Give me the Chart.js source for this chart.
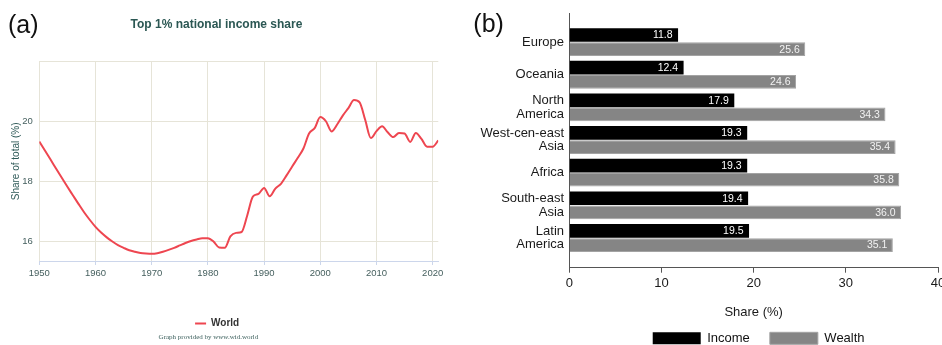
<!DOCTYPE html>
<html>
<head>
<meta charset="utf-8">
<script src="https://cdn.jsdelivr.net/npm/chart.js@4.4.1/dist/chart.umd.min.js"></script>
<style>
  html, body { margin: 0; padding: 0; background: #fff; overflow: hidden; }
  #wrap { position: relative; width: 942px; height: 345px; overflow: hidden; }
  #left { position: absolute; left: 0; top: 0; }
  #right { position: absolute; left: 470px; top: 0; }
</style>
</head>
<body>
<div id="wrap">
  <canvas id="left" width="470" height="345"></canvas>
  <canvas id="right" width="472" height="345"></canvas>
</div>
<script>
// ---- Panel (a): top 1% national income share, World ----
const years = [
  1950, 1951, 1952, 1953, 1954, 1955, 1956, 1957, 1958, 1959,
  1960, 1961, 1962, 1963, 1964, 1965, 1966, 1967, 1968, 1969,
  1970, 1971, 1972, 1973, 1974, 1975, 1976, 1977, 1978, 1979,
  1980, 1981, 1982, 1983, 1984, 1985, 1986, 1987, 1988, 1989,
  1990, 1991, 1992, 1993, 1994, 1995, 1996, 1997, 1998, 1999,
  2000, 2001, 2002, 2003, 2004, 2005, 2006, 2007, 2008, 2009,
  2010, 2011, 2012, 2013, 2014, 2015, 2016, 2017, 2018, 2019,
  2020, 2021
];
const worldTop1 = [
  19.33, 19.03, 18.73, 18.42, 18.12, 17.82, 17.53, 17.24, 16.96, 16.71,
  16.48, 16.29, 16.13, 15.99, 15.87, 15.78, 15.70, 15.65, 15.61, 15.59,
  15.58, 15.60, 15.65, 15.71, 15.78, 15.86, 15.94, 16.01, 16.06, 16.10,
  16.10, 15.99, 15.79, 15.78, 16.16, 16.28, 16.31, 16.86, 17.49, 17.58,
  17.78, 17.50, 17.76, 17.92, 18.20, 18.50, 18.79, 19.10, 19.60, 19.78,
  20.15, 20.01, 19.67, 19.90, 20.20, 20.45, 20.72, 20.64, 20.05, 19.45,
  19.68, 19.84, 19.64, 19.48, 19.62, 19.60, 19.32, 19.62, 19.42, 19.16,
  19.16, 19.37
];
const yearTicks = [1950, 1960, 1970, 1980, 1990, 2000, 2010, 2020];
const shareTicks = [16, 18, 20, 22];

// ---- Panel (b): income and wealth shares by region ----
const regions = [
  'Europe',
  'Oceania',
  ['North', 'America'],
  ['West-cen-east', 'Asia'],
  'Africa',
  ['South-east', 'Asia'],
  ['Latin', 'America']
];
const incomeShare = [11.8, 12.4, 17.9, 19.3, 19.3, 19.4, 19.5];
const wealthShare = [25.6, 24.6, 34.3, 35.4, 35.8, 36.0, 35.1];
const shareAxisTicks = [0, 10, 20, 30, 40];

const SANS = "'Liberation Sans', Arial, Helvetica, sans-serif";
const SERIF = "'Liberation Serif', 'Times New Roman', serif";

// Nudges title / legend / subtitle boxes after layout.
const boxShift = {
  id: 'boxShift',
  afterLayout(chart, args, opts) {
    const move = (box, d) => {
      if (!box || !d) return;
      const dx = d.x || 0, dy = d.y || 0;
      box.left += dx; box.right += dx;
      box.top += dy; box.bottom += dy;
    };
    move(chart.titleBlock, opts.title);
    move(chart.legend, opts.legend);
    if (opts.subtitle) {
      const txt = chart.options.plugins.subtitle.text;
      const sub = chart.boxes.find(b => b !== chart.titleBlock && b.options && b.options.text === txt);
      move(sub, opts.subtitle);
    }
  }
};

// Panel letter in the top-left corner.
const panelTag = {
  id: 'panelTag',
  afterDraw(chart, args, opts) {
    const ctx = chart.ctx;
    ctx.save();
    ctx.font = '25px ' + SANS;
    ctx.fillStyle = '#111';
    ctx.textAlign = 'left';
    ctx.textBaseline = 'alphabetic';
    ctx.fillText(opts.text, opts.x, opts.y);
    ctx.restore();
  }
};

// Value printed inside the end of each bar.
const barValues = {
  id: 'barValues',
  afterDatasetsDraw(chart, args, opts) {
    const ctx = chart.ctx;
    ctx.save();
    ctx.font = '10.5px ' + SANS;
    ctx.textAlign = 'right';
    ctx.textBaseline = 'middle';
    chart.data.datasets.forEach((ds, di) => {
      const meta = chart.getDatasetMeta(di);
      ctx.fillStyle = opts.colors[di];
      meta.data.forEach((bar, i) => {
        ctx.fillText(ds.data[i].x.toFixed(1), bar.x - opts.inset, bar.y + 0.5);
      });
    });
    ctx.restore();
  }
};

new Chart(document.getElementById('left'), {
  type: 'line',
  data: {
    datasets: [{
      label: 'World',
      data: years.map((yr, i) => ({ x: yr, y: worldTop1[i] })),
      borderColor: '#ee4650',
      backgroundColor: '#ee4650',
      borderWidth: 2,
      pointRadius: 0,
      cubicInterpolationMode: 'monotone',
      fill: false
    }]
  },
  options: {
    responsive: false,
    animation: false,
    devicePixelRatio: 1,
    layout: { padding: { left: 0, right: 31.7, top: 0, bottom: 0 } },
    scales: {
      x: {
        type: 'linear',
        min: 1950,
        max: 2021,
        afterBuildTicks: s => { s.ticks = yearTicks.map(v => ({ value: v })); },
        afterFit: s => { s.height = 45.1; s.paddingLeft = 0; s.paddingRight = 0; },
        grid: { color: '#e6e4d8', lineWidth: 1, tickColor: '#ccd6eb', tickLength: 4 },
        border: { display: true, color: '#ccd6eb', width: 1 },
        ticks: {
          padding: 3, color: '#46605f', maxRotation: 0,
          font: { family: SANS, size: 9.5 },
          callback: v => String(v)
        }
      },
      y: {
        min: 15.34,
        max: 22,
        afterBuildTicks: s => { s.ticks = shareTicks.map(v => ({ value: v })); },
        afterFit: s => { s.width = 39.3; s.paddingTop = 0; s.paddingBottom = 0; },
        grid: { color: '#e6e4d8', lineWidth: 1, drawTicks: false },
        border: { display: false },
        ticks: {
          padding: 6.6, color: '#46605f',
          font: { family: SANS, size: 9.5 },
          callback: v => (v === 22 ? '' : String(v))
        },
        title: {
          display: true, text: 'Share of total (%)', color: '#2f5a58',
          font: { family: SANS, size: 10 },
          padding: { top: 10.2, bottom: 0 }
        }
      }
    },
    plugins: {
      title: {
        display: true,
        text: 'Top 1% national income share',
        color: '#2b5753',
        font: { family: SANS, size: 12, weight: 'bold' },
        padding: { top: 17.8, bottom: 29.5 }
      },
      subtitle: {
        display: true,
        position: 'bottom',
        text: 'Graph provided by www.wid.world',
        color: '#3b5f5c',
        font: { family: SERIF, size: 7 },
        padding: { top: 2, bottom: 3.5 }
      },
      legend: {
        display: true,
        position: 'bottom',
        labels: {
          usePointStyle: true, pointStyle: 'line', pointStyleWidth: 11, boxHeight: 10,
          padding: 5, color: '#333',
          font: { family: SANS, size: 10, weight: 'bold' }
        }
      },
      tooltip: { enabled: false },
      boxShift: { title: { x: -2.7 }, legend: { x: -2, y: 7.4 }, subtitle: { x: -10.7 } },
      panelTag: { text: '(a)', x: 8, y: 33 }
    }
  },
  plugins: [boxShift, panelTag]
});

new Chart(document.getElementById('right'), {
  type: 'bar',
  data: {
    datasets: [
      {
        label: 'Income',
        data: incomeShare.map((v, i) => ({ x: v, y: i })),
        backgroundColor: '#000000',
        borderColor: '#000000',
        borderWidth: 0,
        categoryPercentage: 0.865,
        barPercentage: 0.97
      },
      {
        label: 'Wealth',
        data: wealthShare.map((v, i) => ({ x: v, y: i })),
        backgroundColor: '#858585',
        borderColor: '#a3a3a3',
        borderWidth: 1,
        categoryPercentage: 0.865,
        barPercentage: 0.97
      }
    ]
  },
  options: {
    indexAxis: 'y',
    responsive: false,
    animation: false,
    devicePixelRatio: 1,
    layout: { padding: { left: 0, right: 4, top: 13, bottom: -18.5 } },
    scales: {
      x: {
        type: 'linear',
        position: 'bottom',
        min: 0,
        max: 40,
        afterBuildTicks: s => { s.ticks = shareAxisTicks.map(v => ({ value: v })); },
        afterFit: s => { s.height = 52.8; s.paddingLeft = 0; s.paddingRight = 0; },
        grid: { drawOnChartArea: false, drawTicks: true, tickLength: 5, color: '#555', tickColor: '#555' },
        border: { display: true, color: '#555', width: 1 },
        ticks: { padding: 3, color: '#1a1a1a', font: { family: SANS, size: 13 } },
        title: {
          display: true, text: 'Share (%)', color: '#1a1a1a',
          font: { family: SANS, size: 13 },
          padding: { top: 0, bottom: 0 }
        }
      },
      y: {
        type: 'linear',
        reverse: true,
        offset: false,
        min: -0.89,
        max: 6.91,
        afterBuildTicks: s => { s.ticks = regions.map((_, i) => ({ value: i })); },
        afterFit: s => { s.width = 99.3; s.paddingTop = 0; s.paddingBottom = 0; },
        grid: { display: false, drawTicks: false, offset: false },
        border: { display: true, color: '#555', width: 1 },
        ticks: {
          padding: 5.3, color: '#1a1a1a',
          font: { family: SANS, size: 13, lineHeight: 1.03 },
          callback: v => regions[v]
        }
      }
    },
    plugins: {
      legend: {
        display: true,
        position: 'bottom',
        fullSize: false,
        labels: {
          boxWidth: 48, boxHeight: 12, padding: 20, color: '#111',
          font: { family: SANS, size: 13 }
        }
      },
      tooltip: { enabled: false },
      boxShift: { legend: { x: 5, y: -8.7 } },
      panelTag: { text: '(b)', x: 3.3, y: 32 },
      barValues: { colors: ['#ffffff', '#f2f2f2'], inset: 5.5 }
    }
  },
  plugins: [boxShift, panelTag, barValues]
});
</script>
</body>
</html>
